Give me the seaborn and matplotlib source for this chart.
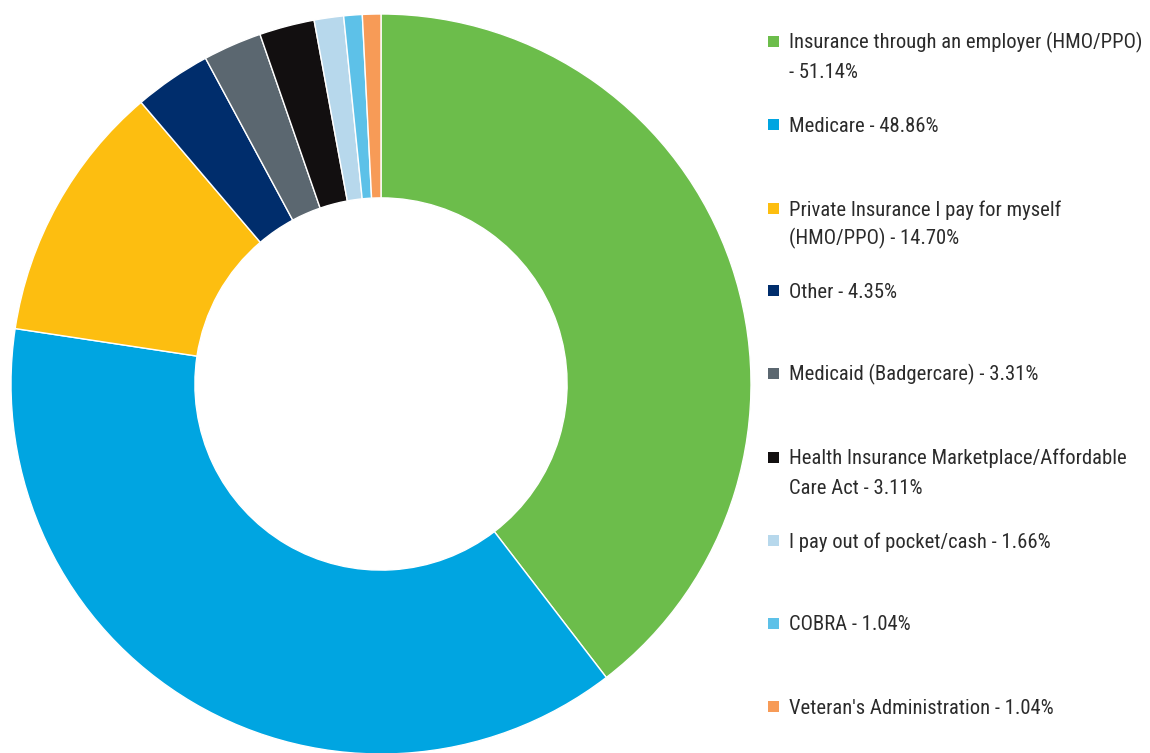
import matplotlib
matplotlib.use("Agg")
import matplotlib.pyplot as plt
import seaborn as sns
from matplotlib import font_manager
from matplotlib.patches import Rectangle

# data
labels = [
    "Insurance through an employer (HMO/PPO)\n- 51.14%",
    "Medicare - 48.86%",
    "Private Insurance I pay for myself\n(HMO/PPO) - 14.70%",
    "Other - 4.35%",
    "Medicaid (Badgercare) - 3.31%",
    "Health Insurance Marketplace/Affordable\nCare Act - 3.11%",
    "I pay out of pocket/cash - 1.66%",
    "COBRA - 1.04%",
    "Veteran's Administration - 1.04%",
]
values = [51.14, 48.86, 14.70, 4.35, 3.31, 3.11, 1.66, 1.04, 1.04]
colors = ["#6cbd4b", "#00a5e1", "#fdbe10", "#002d6c", "#5b6770",
          "#120f10", "#b7d8ec", "#5dc1e8", "#f79b57"]

sns.set_theme(style="white")

# pick a narrow face if one is there
names = {f.name for f in font_manager.fontManager.ttflist}
font = "Roboto"
fsize = 13.5
for cand in ["Roboto Condensed", "Liberation Sans Narrow"]:
    if cand in names:
        font, fsize = cand, 14.9
        break
plt.rcParams["font.family"] = [font, "DejaVu Sans"]

W, H = 1150, 753
fig = plt.figure(figsize=(W / 100, H / 100), dpi=100)

# donut
cx, cy, r = 381, 384, 370
ax = fig.add_axes([(cx - r) / W, (H - cy - r) / H, 2 * r / W, 2 * r / H])
ax.pie(values, colors=sns.color_palette(colors), startangle=90, counterclock=False,
       radius=1, wedgeprops=dict(width=0.497, edgecolor="white", linewidth=1))
ax.set_xlim(-1, 1)
ax.set_ylim(-1, 1)
ax.set_aspect("equal")
ax.axis("off")

# legend drawn by hand so the box sits on the first line
ys = [41, 124, 208, 290, 373, 457, 540, 623, 706]
for lab, col, y in zip(labels, colors, ys):
    fig.patches.append(Rectangle((768 / W, (H - y - 5.5) / H), 11 / W, 11 / H,
                                 transform=fig.transFigure, facecolor=col,
                                 edgecolor="none"))
    for i, line in enumerate(lab.split("\n")):
        fig.text(789 / W, (H - (y + 7.5 + 29 * i)) / H, line, fontsize=fsize,
                 color="#2b2b2b", va="baseline", ha="left")

fig.savefig("out.png", dpi=100, facecolor="white")
